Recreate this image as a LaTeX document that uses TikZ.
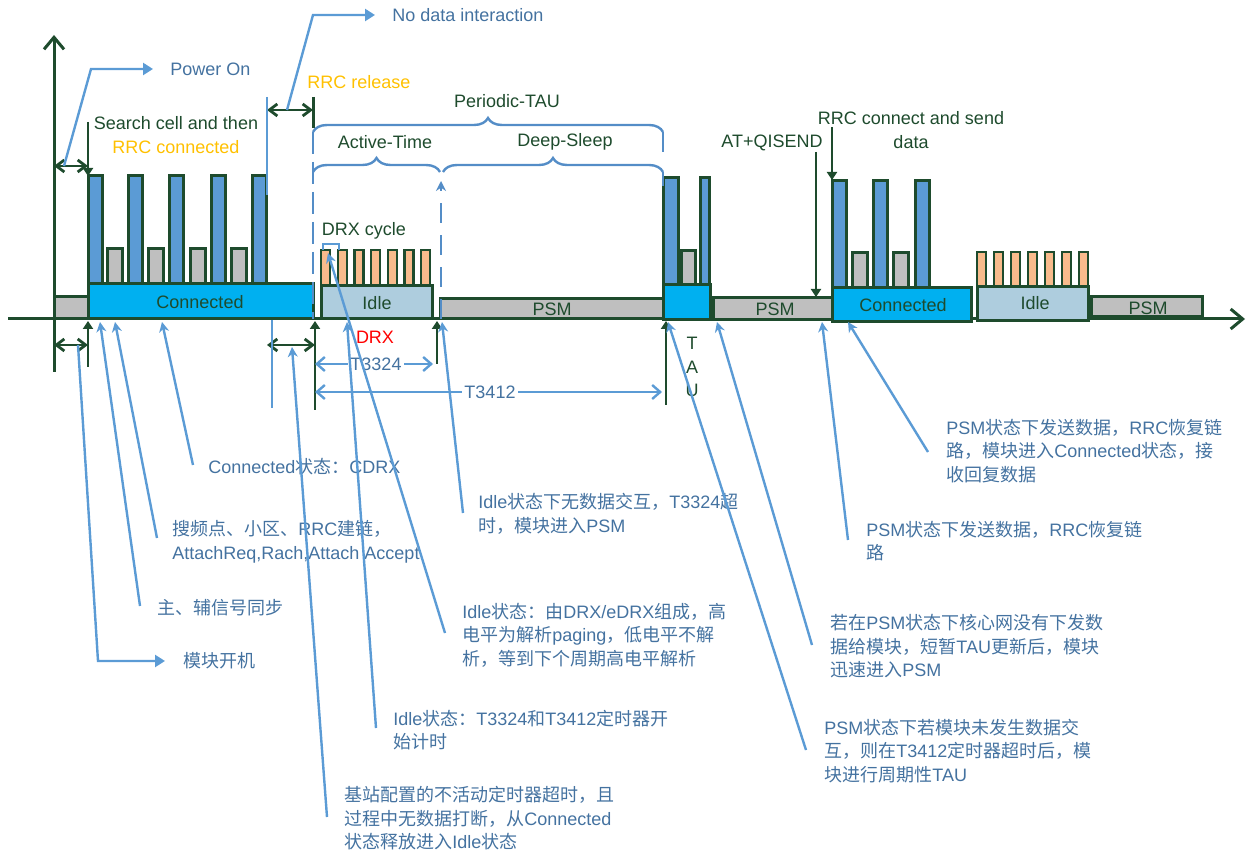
\documentclass[tikz,border=0pt]{standalone}
\usepackage{fontspec}
\setmainfont{Liberation Sans}
\newfontfamily\cjk{Noto Sans CJK SC}
\usetikzlibrary{arrows.meta,decorations.pathreplacing}
\definecolor{dkgreen}{RGB}{30,75,45}
\definecolor{leadblue}{RGB}{91,155,213}
\definecolor{barblue}{RGB}{91,155,213}
\definecolor{conncyan}{RGB}{0,176,240}
\definecolor{psmgray}{RGB}{191,191,191}
\definecolor{idleblue}{RGB}{174,205,222}
\definecolor{drxpeach}{RGB}{248,187,140}
\definecolor{notetext}{RGB}{68,114,160}
\definecolor{rrcorange}{RGB}{255,192,0}
\definecolor{bracecol}{RGB}{84,141,199}
\newcommand\zh[1]{{\cjk #1}}

\begin{document}
\begin{tikzpicture}[x=0.5pt,y=-0.5pt,
    every node/.style={font=\fontsize{9}{11.8}\selectfont, inner sep=0pt},
    blk/.style={draw=dkgreen, line width=1.5pt},
    drxbar/.style={draw=dkgreen, line width=1.2pt, fill=drxpeach},
    timeaxis/.style={dkgreen, line width=1.5pt},
    dspan/.style={dkgreen, line width=1.4pt,
                  {Straight Barb[length=4pt,width=6pt]}-{Straight Barb[length=4pt,width=6pt]}},
    pointer/.style={dkgreen, line width=1.4pt, -{Triangle[length=4pt,width=5pt]}},
    timer/.style={leadblue, line width=1.2pt,
                  {Straight Barb[length=4pt,width=7pt]}-{Straight Barb[length=4pt,width=7pt]}},
    lead/.style={leadblue, line width=1.2pt, -{Stealth[length=5pt,width=5pt]}},
    brc/.style={bracecol, line width=1.2pt, decorate, decoration={brace,amplitude=7pt}},
    note/.style={text=notetext, align=left, anchor=west},
    lbl/.style={text=dkgreen}]
\useasboundingbox (0,0) rectangle (1247,854);

% time axis
\draw[timeaxis,-{Straight Barb[length=6pt,width=10pt]}] (8,319) -- (1245,319);
\draw[timeaxis,-{Straight Barb[length=6pt,width=10pt]}] (54,372) -- (54,35);

% first connection
\filldraw[blk,fill=psmgray] (54,297) rectangle (88,319);
\foreach \x in {88,128,169,211,252}
  \filldraw[blk,fill=barblue] (\x,176) rectangle ++(14,108);
\foreach \x in {107,148,190,231}
  \filldraw[blk,fill=psmgray] (\x,249) rectangle ++(15,35);
\filldraw[blk,fill=conncyan] (88,284) rectangle (313,319);
\node[lbl] (conA) at (200,302) {Connected};

% idle with DRX
\foreach \i in {0,...,6}
  \filldraw[drxbar] ({321+16.7*\i},250) rectangle ++(9,36);
\filldraw[blk,fill=idleblue] (321,286) rectangle (432,319);
\node[lbl] (idleA) at (377,303) {Idle};

\filldraw[blk,fill=psmgray] (440,299) rectangle (663,319);
\node[lbl] (psmA) at (552,309) {PSM};

% TAU
\filldraw[blk,fill=barblue] (663,178) rectangle (678,285);
\filldraw[blk,fill=psmgray] (681,251) rectangle (695,285);
\filldraw[blk,fill=barblue] (700,178) rectangle (709,285);
\filldraw[blk,fill=conncyan] (663,285) rectangle (710,320);

\filldraw[blk,fill=psmgray] (713,298) rectangle (833,320);
\node[lbl] (psmB) at (775,309) {PSM};

% second connection
\foreach \x in {832,873,915}
  \filldraw[blk,fill=barblue] (\x,181) rectangle ++(14,107);
\foreach \x in {852,893}
  \filldraw[blk,fill=psmgray] (\x,253) rectangle ++(15,35);
\filldraw[blk,fill=conncyan] (832,288) rectangle (971,322);
\node[lbl] (conB) at (903,305) {Connected};

\foreach \i in {0,...,6}
  \filldraw[drxbar] ({977+17*\i},252) rectangle ++(9,35);
\filldraw[blk,fill=idleblue] (977,287) rectangle (1088,321);
\node[lbl] (idleB) at (1035,303) {Idle};

\filldraw[blk,fill=psmgray] (1091,297) rectangle (1202,317);
\node[lbl] (psmC) at (1148,308) {PSM};

% labels above
\node[text=notetext, anchor=west] (nodata) at (392,15) {No data interaction};
\node[text=notetext, anchor=west] (pwron) at (170,69) {Power On};
\node[text=rrcorange, anchor=west] (rrcrel) at (307,82) {RRC release};
\node[lbl] (ptau) at (507,101) {Periodic-TAU};
\node[lbl, align=center] (search) at (176,135) {Search cell and then\\\textcolor{rrcorange}{RRC connected}};
\node[lbl] (active) at (385,142) {Active-Time};
\node[lbl] (deep) at (565,142) {Deep-Sleep};
\node[lbl] (atcmd) at (772,143) {AT+QISEND};
\node[lbl, align=center] (rrcsend) at (911,130) {RRC connect and send\\data};
\node[lbl] (drxcyc) at (364,231) {DRX cycle};
\node[text=red] (drx) at (375,337) {DRX};
\node[lbl, align=center] (tau) at (692,367) {T\\A\\U};

% dark markers
\draw[dspan] (54,166) -- (88,166);
\draw[pointer] (88,122) -- (88,176);
\draw[dspan] (267,110) -- (313,110);
\draw[timeaxis] (313,97) -- (313,128);
\draw[dspan] (54,345) -- (88,345);
\draw[pointer] (88,367) -- (88,321);
\draw[dspan] (267,345) -- (315,345);
\draw[pointer] (315,410) -- (315,321);
\draw[pointer] (437,364) -- (437,321);
\draw[pointer] (666,405) -- (666,321);
\draw[pointer] (816,152) -- (816,297);
\draw[pointer] (832,127) -- (832,180);

% timers and braces
\draw[timer] (315,364) -- (433,364);
\node[text=notetext, fill=white, inner sep=1pt] (t3324) at (376,364) {T3324};
\draw[timer] (315,392) -- (662,392);
\node[text=notetext, fill=white, inner sep=1pt] (t3412) at (490,392) {T3412};
\draw[leadblue, line width=1.2pt] (267,97) -- (267,195);
\draw[leadblue, line width=1.2pt] (272,320) -- (272,408);
\draw[bracecol, line width=1.2pt, dash pattern=on 11pt off 4pt] (313,132) -- (313,319);
\draw[bracecol, line width=1.2pt, dash pattern=on 10pt off 6pt,
      -{Stealth[length=5pt,width=5pt]}] (441,319) -- (441,181);
\draw[brc] (313,132) -- (663,132);
\draw[bracecol, line width=1.2pt] (663,132) -- (663,152);
\draw[brc] (313,172) -- (440,172);
\draw[brc] (443,172) -- (663,172);
\draw[bracecol, line width=1.2pt] (663,172) -- (663,186);
\draw[leadblue, line width=1pt] (323,250) -- (323,244) -- (339,244) -- (339,250);
\draw[leadblue, line width=1.2pt, -{Triangle[length=5pt,width=6pt]}, shorten >=8.5pt]
  (64,166) -- (91,69) -- (pwron.west);
\draw[leadblue, line width=1.2pt, -{Triangle[length=5pt,width=6pt]}, shorten >=8.5pt]
  (287,110) -- (313,15) -- (nodata.west);

% notes
\node[note] (cdrx) at (208,467) {Connected\zh{状态：}CDRX};
\node[note] (search2) at (172,541.5) {\zh{搜频点、小区、}RRC\zh{建链，}\\AttachReq,Rach,Attach Accept};
\node[note] (sync) at (157,608) {\zh{主、辅信号同步}};
\node[note] (poweron2) at (183,661) {\zh{模块开机}};
\node[note] (t3324out) at (478,514) {Idle\zh{状态下无数据交互，}T3324\zh{超}\\\zh{时，模块进入}PSM};
\node[note] (idledrx) at (462,635) {Idle\zh{状态：由}DRX/eDRX\zh{组成，高}\\\zh{电平为解析}paging\zh{，低电平不解}\\\zh{析，等到下个周期高电平解析}};
\node[note] (idletimer) at (393,730) {Idle\zh{状态：}T3324\zh{和}T3412\zh{定时器开}\\\zh{始计时}};
\node[note] (inactive) at (344,818.5) {\zh{基站配置的不活动定时器超时，且}\\\zh{过程中无数据打断，从}Connected\\\zh{状态释放进入}Idle\zh{状态}};
\node[note] (psmrecv) at (946,451) {PSM\zh{状态下发送数据，}RRC\zh{恢复链}\\\zh{路，模块进入}Connected\zh{状态，接}\\\zh{收回复数据}};
\node[note] (psmsend) at (866,541) {PSM\zh{状态下发送数据，}RRC\zh{恢复链}\\\zh{路}};
\node[note] (shorttau) at (830,646.5) {\zh{若在}PSM\zh{状态下核心网没有下发数}\\\zh{据给模块，短暂}TAU\zh{更新后，模块}\\\zh{迅速进入}PSM};
\node[note] (periodic) at (824,751) {PSM\zh{状态下若模块未发生数据交}\\\zh{互，则在}T3412\zh{定时器超时后，模}\\\zh{块进行周期性}TAU};

% lead lines
\draw[leadblue, line width=1.2pt, -{Triangle[length=5pt,width=6pt]}, shorten >=9pt]
  (78,345) -- (98,661) -- (poweron2.west);
\draw[lead] (140,606) -- (100,322);
\draw[lead] (157,538) -- (115,322);
\draw[lead] (193,465) -- (162,322);
\draw[lead] (327,817) -- (292,347);
\draw[lead] (376,728) -- (347,322);
\draw[lead] (445,633) -- (328,253);
\draw[lead] (463,513) -- (442,322);
\draw[lead] (806,750) -- (668,322);
\draw[lead] (812,645) -- (717,322);
\draw[lead] (848,540) -- (822,322);
\draw[lead] (928,452) -- (848,322);
\end{tikzpicture}
\end{document}
